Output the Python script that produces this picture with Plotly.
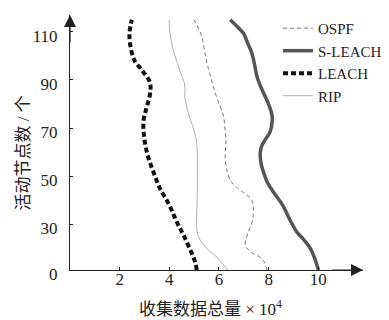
import plotly.graph_objects as go

# ---- data ----
ospf_y = [11, 12.2, 15.7, 18.4, 21.2, 25, 30.8, 35, 38, 40.5, 43, 45, 47.5, 52, 58, 65, 70, 75, 83, 91, 97, 102, 107, 111, 115]
ospf_x = [7.93, 7.9, 7.73, 7.3, 7.06, 7.12, 7.33, 7.39, 7.38, 7.3, 7.0, 6.75, 6.5, 6.33, 6.25, 6.28, 6.24, 6.18, 5.9, 5.67, 5.52, 5.42, 5.33, 5.2, 4.99]

sleach_y = [11, 13, 20, 24, 26.7, 32, 37.7, 43, 47.4, 51.5, 55, 59.7, 62.5, 65, 68, 71, 75, 80.4, 84.5, 88, 91.4, 96, 101, 105, 109.3, 112, 115]
sleach_x = [10.0, 9.95, 9.68, 9.38, 9.14, 8.85, 8.58, 8.22, 7.95, 7.8, 7.7, 7.66, 7.72, 7.85, 8.04, 8.12, 8.14, 7.98, 7.8, 7.65, 7.53, 7.44, 7.33, 7.17, 6.99, 6.75, 6.45]

leach_y = [11, 14, 24, 31, 38, 45, 52, 59, 66, 73, 78, 84, 89, 94, 98, 105, 110, 115]
leach_x = [5.1, 5.05, 4.64, 4.3, 4.0, 3.62, 3.35, 3.12, 2.99, 2.96, 3.07, 3.22, 3.22, 2.9, 2.6, 2.42, 2.4, 2.49]

rip_y = [11, 13, 16, 20, 25, 30, 40, 50, 58, 64, 68, 72, 76, 80, 83, 86, 89, 93, 97, 101, 105, 110, 115]
rip_x = [6.34, 6.2, 5.95, 5.5, 5.17, 5.1, 5.12, 5.13, 5.13, 5.1, 5.02, 4.9, 4.77, 4.68, 4.62, 4.63, 4.6, 4.45, 4.32, 4.2, 4.1, 4.02, 3.99]

x_tickvals = [2, 4, 6, 8, 10]
x_ticktext = ["2", "4", "6", "8", "10"]
y_tickvals = [11, 30, 50, 70, 90, 110]
y_ticktext = ["0", "30", "50", "70", "90", "110"]

x_title = "收集数据总量 × 10<sup>4</sup>"
y_title = "活动节点数 / 个"

FONT = '"Liberation Serif", "Times New Roman", "Noto Sans CJK SC", serif'
AX = "#222222"
TXT = "#222222"

fig = go.Figure()
fig.add_trace(go.Scatter(x=ospf_x, y=ospf_y, name="OSPF", mode="lines",
                         line=dict(color="#777777", width=1, dash="4px,3px", shape="spline")))
fig.add_trace(go.Scatter(x=sleach_x, y=sleach_y, name="S-LEACH", mode="lines",
                         line=dict(color="#555555", width=3.5, shape="spline")))
fig.add_trace(go.Scatter(x=leach_x, y=leach_y, name="LEACH", mode="lines",
                         line=dict(color="#111111", width=4, dash="5px,3px", shape="spline")))
fig.add_trace(go.Scatter(x=rip_x, y=rip_y, name="RIP", mode="lines",
                         line=dict(color="#b0b0b0", width=1, shape="spline")))

# the page body has an 8px default margin, so the figure is sized/offset to compensate
fig.update_layout(
    width=381, height=312,
    margin=dict(l=62, r=26, t=7, b=50, autoexpand=False),
    paper_bgcolor="white", plot_bgcolor="white",
    font=dict(family=FONT, size=17, color=TXT),
    showlegend=True,
    legend=dict(x=0.71, y=1.012, xanchor="left", yanchor="top",
                bgcolor="rgba(0,0,0,0)", font=dict(family=FONT, size=15, color=TXT),
                tracegroupgap=0, itemwidth=30),
    xaxis=dict(range=[0, 11.8], tickvals=x_tickvals, ticktext=x_ticktext, automargin=False,
               showgrid=False, zeroline=False, showline=True, linecolor=AX, linewidth=1.2,
               ticks="inside", ticklen=3, tickcolor=AX, tickfont=dict(family=FONT, size=17, color=TXT),
               ticklabelstandoff=-7),
    yaxis=dict(range=[11, 117], tickvals=y_tickvals, ticktext=y_ticktext, automargin=False,
               showgrid=False, zeroline=False, showline=True, linecolor=AX, linewidth=1.2,
               ticks="inside", ticklen=3, tickcolor=AX, tickfont=dict(family=FONT, size=17, color=TXT),
               ticklabelstandoff=8, ticklabelshift=4),
    annotations=[
        dict(x=11.8, y=11, ax=10.5, ay=11, xref="x", yref="y", axref="x", ayref="y",
             showarrow=True, arrowhead=2, arrowsize=2, arrowwidth=1.2, arrowcolor=AX, text=""),
        dict(x=0, y=117, ax=0, ay=105, xref="x", yref="y", axref="x", ayref="y",
             showarrow=True, arrowhead=2, arrowsize=2, arrowwidth=1.2, arrowcolor=AX, text=""),
        dict(x=0.48, y=-0.15, xref="paper", yref="paper", xanchor="center", yanchor="middle",
             text=x_title, showarrow=False, font=dict(family=FONT, size=17, color=TXT)),
        dict(x=-0.158, y=0.46, xref="paper", yref="paper", xanchor="center", yanchor="middle",
             text=y_title, textangle=-90, showarrow=False, font=dict(family=FONT, size=17, color=TXT)),
    ],
)

fig.write_html("out.html")
